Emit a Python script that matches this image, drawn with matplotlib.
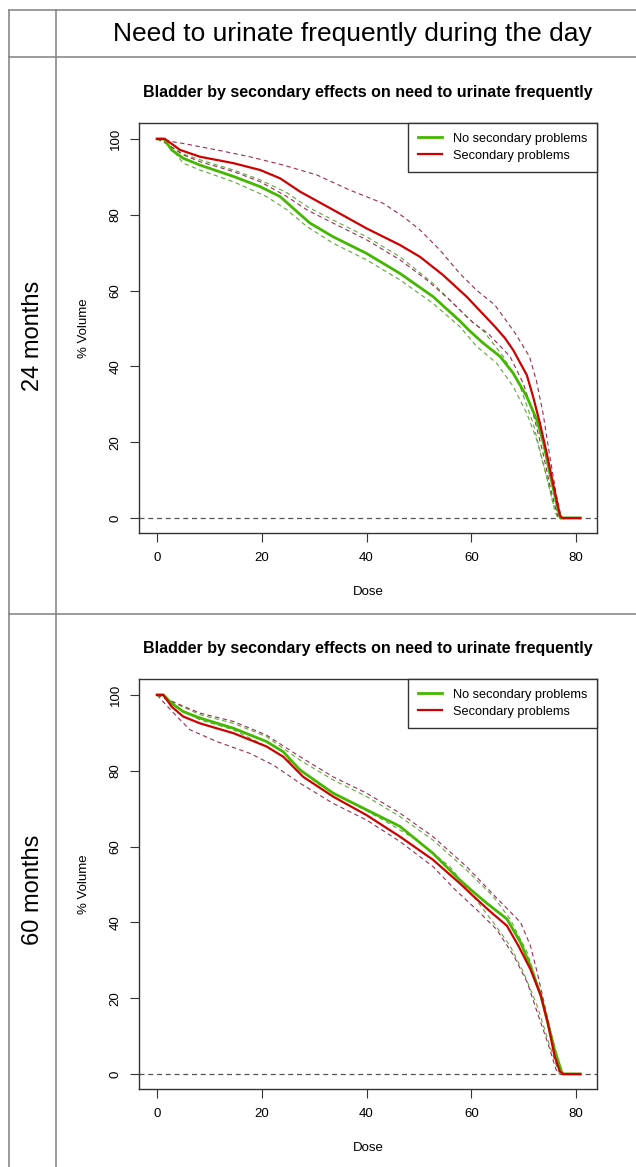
import matplotlib
matplotlib.use("Agg")
import matplotlib.pyplot as plt
from matplotlib.lines import Line2D

plt.rcParams['font.family'] = ['Liberation Sans', 'DejaVu Sans']

# ---------------- data ----------------
header_title = "Need to urinate frequently during the day"
row_labels = ["24 months", "60 months"]
plot_title = "Bladder by secondary effects on need to urinate frequently"
series_names = ["No secondary problems", "Secondary problems"]
x_ticks = [0, 20, 40, 60, 80]
y_ticks = [0, 20, 40, 60, 80, 100]
x_label = "Dose"
y_label = "% Volume"

# 24 months
m24_no_dose = [0, 1.3, 2.8, 5.0, 8.2, 14.6, 19.7, 23.5, 26.0, 29.2, 33.6, 40.0, 46.4, 52.7, 57.8, 59.5, 62.3, 65.5, 68.0, 70.6, 72.5, 73.8, 75.0, 76.3, 77.0, 80.8]
m24_no_vol = [100, 100, 97.1, 94.9, 93.1, 90.1, 87.4, 84.8, 81.7, 77.8, 74.2, 69.8, 64.5, 58.4, 52.0, 49.6, 46.1, 42.6, 38.2, 32.0, 25.9, 19.7, 11.8, 3.8, 0, 0]
m24_sec_dose = [0, 1.5, 4.4, 8.2, 14.6, 19.7, 23.5, 27.3, 33.6, 40.0, 46.4, 50.2, 54.6, 59.1, 64.5, 66.4, 68.0, 70.6, 71.8, 73.1, 74.4, 75.6, 76.9, 77.3, 80.8]
m24_sec_vol = [100, 100, 97.1, 95.3, 93.6, 91.8, 89.6, 86.1, 81.3, 76.4, 72.0, 68.9, 64.1, 58.4, 50.5, 47.5, 44.3, 37.7, 32.0, 25.0, 17.1, 9.1, 0.8, 0, 0]
m24_sec_up_dose = [0, 1.5, 5, 11.4, 17.7, 24.1, 30.5, 36.8, 43.2, 47, 50.2, 54, 57.8, 61, 64.5, 68.4, 71.1, 72.4, 73.7, 75, 76.3, 77.2]
m24_sec_up_vol = [100, 99.6, 98.8, 97.1, 95.3, 93.1, 90.5, 86.5, 83.0, 79.5, 76.0, 70.7, 64.5, 60.1, 56.2, 48.7, 42.6, 36.4, 27.6, 16.2, 5.6, 0]
m24_sec_lo_dose = [0, 1.5, 5, 8.2, 14.6, 19.7, 24.8, 28.6, 33.6, 40, 46.4, 51.5, 55.9, 60.4, 63.2, 67.4, 69.9, 71.8, 73.7, 75.2, 76.6]
m24_sec_lo_vol = [100, 99, 95.8, 94.0, 91.4, 88.7, 84.8, 81.3, 77.8, 73.4, 68.1, 62.8, 57.5, 51.4, 48.7, 42.6, 35.6, 27.6, 17.1, 7.4, 0]
m24_no_up_dose = [0, 1.5, 5, 8.2, 14.6, 19.7, 24.8, 28.6, 33.6, 40, 46.4, 52.7, 59.1, 62.4, 66.1, 69.3, 71.8, 73.7, 75.6, 77.0]
m24_no_up_vol = [100, 99, 96, 94.5, 91.8, 89.2, 85.8, 82.2, 78.6, 74.2, 68.9, 61.9, 53.1, 49.2, 42.6, 34.7, 25.0, 14.6, 4.0, 0]
m24_no_lo_dose = [0, 1.0, 2.5, 5, 8.2, 14.6, 20.9, 24.8, 28.6, 33.6, 40, 46.4, 52.7, 57.8, 61, 64.8, 68, 70.6, 72.5, 74.4, 76.0, 76.6]
m24_no_lo_vol = [100, 100, 98, 93.6, 91.8, 88.7, 84.8, 81.3, 76.9, 72.5, 68.1, 62.8, 56.6, 50.5, 45.3, 40.9, 34.7, 27.6, 20.6, 10.9, 1.5, 0]

# 60 months
m60_no_dose = [0, 1.2, 2.8, 5, 8.2, 14.6, 20.9, 24.1, 27.3, 33.6, 40, 46.4, 52.7, 57.8, 60.0, 63.0, 66.8, 69.4, 71.3, 73.3, 74.6, 75.9, 77.2, 77.5, 80.8]
m60_no_vol = [100, 100, 97.8, 95.6, 93.9, 91.2, 87.7, 85.0, 80.2, 74.1, 69.7, 65.3, 58.2, 51.2, 48.5, 45.0, 40.9, 34.7, 28.5, 20.6, 13.5, 6.4, 0.7, 0, 0]
m60_sec_dose = [0, 1.2, 2.8, 5, 8.2, 14.6, 20.9, 24.1, 27.9, 33.6, 40, 46.4, 52.7, 57.8, 60.5, 63.5, 66.8, 69.0, 71.3, 73.3, 74.6, 75.9, 76.9, 77.5, 80.8]
m60_sec_vol = [100, 100, 96.9, 94.3, 92.5, 89.9, 86.4, 83.7, 78.4, 73.2, 68.3, 62.6, 56.5, 50.3, 46.8, 43.0, 39.1, 33.8, 27.6, 20.6, 13.5, 4.7, 0.7, 0, 0]
m60_sec_up_dose = [0, 1.5, 8.2, 14.6, 20.9, 27.3, 33.6, 40, 46.4, 52.7, 59.1, 64.8, 69.4, 71.3, 72.6, 73.9, 75.2, 76.9, 77.4]
m60_sec_up_vol = [100, 99.1, 95.2, 93.0, 89.4, 83.7, 78.4, 74.1, 68.8, 62.6, 54.7, 46.5, 40.0, 33.8, 26.7, 18.8, 10.9, 2.0, 0]
m60_no_up_dose = [0, 1.5, 8.2, 14.6, 20.9, 27.3, 33.6, 40, 46.4, 52.7, 59.1, 64.2, 67.4, 70.7, 73.3, 75.2, 76.9, 77.3]
m60_no_up_vol = [100, 99, 94.8, 92.5, 89.0, 82.8, 77.6, 73.2, 67.9, 61.7, 53.8, 46.8, 40.9, 32.0, 20.6, 10.0, 1.1, 0]
m60_no_lo_dose = [0, 1.0, 2.5, 8.2, 14.6, 20.9, 26, 30.5, 36.8, 43.2, 49.6, 55.9, 60.6, 64.2, 67.4, 70, 72.6, 74.6, 76.5, 77.0]
m60_no_lo_vol = [100, 100, 97.7, 93.4, 90.8, 86.4, 82.0, 76.7, 71.8, 67.0, 61.7, 54.7, 46.5, 40.0, 33.8, 26.7, 17.9, 9.1, 1.1, 0]
m60_sec_lo_dose = [0, 1.5, 3.8, 6.3, 11.4, 17.7, 22.2, 27.3, 33.6, 40, 46.4, 52.7, 57.0, 60.9, 64.8, 68.1, 70.7, 72.6, 74.6, 76.2, 76.8]
m60_sec_lo_vol = [100, 97.7, 94.3, 90.8, 87.7, 84.6, 81.5, 76.7, 71.4, 67.0, 61.3, 54.7, 48.5, 43.5, 38.2, 31.2, 24.1, 16.2, 8.2, 1.1, 0]

# ---------------- style ----------------
GREEN = "#44b800"
RED = "#d10000"
GREEN_D = "#5fa83c"
RED_D = "#9a2c55"
FRAME = "#333333"
GRID = "#808080"

W, H = 636, 1167
fig = plt.figure(figsize=(W / 100, H / 100), dpi=100)


def fx(px):
    return px / W


def fy(py):
    return 1 - py / H


# table lines
tl = dict(color=GRID, lw=1.1, transform=fig.transFigure)
fig.add_artist(Line2D([fx(8.5), 1], [fy(10), fy(10)], **tl))
fig.add_artist(Line2D([fx(8.5), 1], [fy(57), fy(57)], **tl))
fig.add_artist(Line2D([fx(8.5), 1], [fy(614), fy(614)], **tl))
fig.add_artist(Line2D([fx(8.5), fx(8.5)], [fy(10), 0], **tl))
fig.add_artist(Line2D([fx(55.7), fx(55.7)], [fy(10), 0], **tl))

fig.text(fx(352), fy(34), header_title, ha='center', va='center', fontsize=19)
fig.text(fx(33), fy(335.5), row_labels[0], rotation=90, ha='center', va='center', fontsize=17)
fig.text(fx(33), fy(890), row_labels[1], rotation=90, ha='center', va='center', fontsize=17)

panels = [
    dict(top=123, no=(m24_no_dose, m24_no_vol), sec=(m24_sec_dose, m24_sec_vol),
         dashed=[(m24_no_up_dose, m24_no_up_vol, GREEN_D), (m24_no_lo_dose, m24_no_lo_vol, GREEN_D),
                 (m24_sec_up_dose, m24_sec_up_vol, RED_D), (m24_sec_lo_dose, m24_sec_lo_vol, RED_D)]),
    dict(top=679, no=(m60_no_dose, m60_no_vol), sec=(m60_sec_dose, m60_sec_vol),
         dashed=[(m60_no_up_dose, m60_no_up_vol, GREEN_D), (m60_no_lo_dose, m60_no_lo_vol, GREEN_D),
                 (m60_sec_up_dose, m60_sec_up_vol, RED_D), (m60_sec_lo_dose, m60_sec_lo_vol, RED_D)]),
]

AX_L, AX_R, AX_H = 139, 597, 410

for p in panels:
    top = p['top']
    ax = fig.add_axes([fx(AX_L), fy(top + AX_H), (AX_R - AX_L) / W, AX_H / H])
    ax.set_xlim(-3.44, 84.0)
    ax.set_ylim(-3.96, 104.2)
    for d, v, c in p['dashed']:
        ax.plot(d, v, color=c, lw=0.8, linestyle=(0, (4, 3)), zorder=2)
    ax.axhline(0, color="#555555", lw=0.9, linestyle=(0, (4, 3)), zorder=1)
    ax.plot(p['no'][0], p['no'][1], color=GREEN, lw=2.0, label=series_names[0], zorder=3)
    ax.plot(p['sec'][0], p['sec'][1], color=RED, lw=1.6, label=series_names[1], zorder=4)

    ax.set_xticks(x_ticks)
    ax.set_yticks(y_ticks)
    ax.set_xticklabels([str(t) for t in x_ticks])
    ax.set_yticklabels([str(t) for t in y_ticks], rotation=90, va='center')
    ax.tick_params(direction='out', length=6.5, width=0.8, color=FRAME,
                   labelsize=9.5, labelcolor='black')
    ax.tick_params(axis='x', pad=7)
    ax.tick_params(axis='y', pad=6)
    for s in ax.spines.values():
        s.set_color(FRAME)
        s.set_linewidth(1.0)

    ax.set_title(plot_title, fontsize=11.5, fontweight='bold', pad=18.5)
    ax.set_xlabel(x_label, fontsize=9.5)
    ax.set_ylabel(y_label, fontsize=9.5)
    ax.xaxis.set_label_coords(0.5, -53 / AX_H)
    ax.yaxis.set_label_coords(-49 / (AX_R - AX_L), 0.5)

    leg = ax.legend(loc='upper right', borderaxespad=0, fancybox=False,
                    edgecolor=FRAME, fontsize=9.2, handlelength=1.9,
                    handletextpad=0.8, labelspacing=0.37, borderpad=0.78,
                    framealpha=1)
    leg.get_frame().set_linewidth(1.0)

fig.savefig("out.png", dpi=100)
